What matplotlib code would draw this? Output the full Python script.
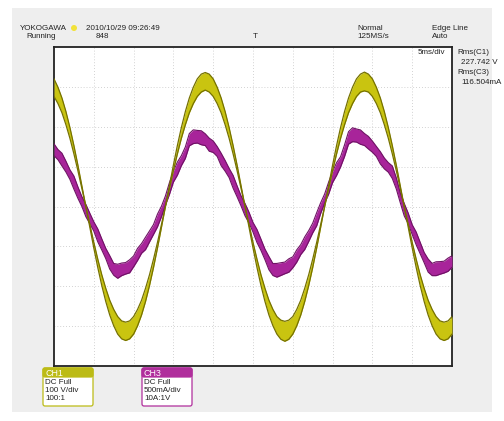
import numpy as np
import matplotlib.pyplot as plt
from matplotlib.patches import Rectangle, FancyBboxPatch, Circle

plt.rcParams['font.family'] = ['Liberation Sans', 'DejaVu Sans']

# sample times, ms (5 ms/div, 10 div)
t_ms = np.linspace(0, 50, 101)

# CH1 voltage envelope, V (upper and lower edge of the yellow band)
ch1_upper = [320, 299, 272, 238, 198, 153, 104, 52, 0, -45, -90, -132, -171, -205, -235, -258, -276, -287, -290, -287,
             -276, -258, -235, -205, -171, -132, -90, -45, 0, 52, 104, 153, 198, 238, 272, 299, 320, 332,
             336, 332, 320, 299, 272, 238, 198, 153, 104, 52, 0, -45, -90, -132, -171, -205, -235, -258, -276, -285,
             -288, -285, -276, -258, -235, -205, -171, -132, -90, -45, 0, 52, 104, 153, 198, 238, 272, 299, 320, 332,
             337, 332, 320, 299, 272, 238, 198, 153, 104, 52, 0, -45, -90, -132, -171, -205, -235, -258, -276, -287,
             -290, -287, -276]
ch1_lower = [276, 258, 235, 205, 171, 132, 90, 45, 0, -52, -104, -153, -198, -238, -272, -299, -320, -332, -336, -332,
             -320, -299, -272, -238, -198, -153, -104, -52, 0, 45, 90, 132, 171, 205, 235, 258, 276, 287,
             292, 287, 276, 258, 235, 205, 171, 132, 90, 45, 0, -52, -104, -153, -198, -238, -272, -299, -320, -333,
             -338, -333, -320, -299, -272, -238, -198, -153, -104, -52, 0, 45, 90, 132, 171, 205, 235, 258, 276, 287,
             290, 287, 276, 258, 235, 205, 171, 132, 90, 45, 0, -52, -104, -153, -198, -238, -272, -299, -320, -332,
             -336, -332, -320]

# CH3 current, mA (centre of the magenta band) and half width of the band
ch3_mid = [712, 650, 588, 500, 400, 300, 175, 62, -50, -150,
           -250, -362, -475, -588, -700, -788, -812, -788, -775, -750,
           -688, -600, -525, -462, -375, -288, -175, -62, 75, 225,
           375, 475, 575, 675, 838, 875, 875, 862, 838, 775,
           750, 690, 590, 510, 420, 310, 190, 70, -40, -140,
           -260, -370, -480, -600, -710, -790, -800, -785, -770, -740,
           -700, -620, -540, -460, -370, -270, -160, -20, 100, 230,
           370, 470, 560, 700, 860, 900, 890, 870, 840, 800,
           750, 690, 610, 540, 490, 430, 290, 110, -40, -150,
           -290, -400, -520, -640, -740, -790, -780, -770, -760, -730,
           -690]
ch3_half = [74, 64, 80, 68, 60, 82, 72, 62, 77, 66, 58, 81, 70, 64, 84, 74, 88, 79, 72, 82,
            68, 76, 61, 78, 69, 62, 80, 66, 58, 74, 68, 82, 63, 72, 77, 86, 79, 88, 74, 82,
            72, 62, 78, 67, 58, 80, 69, 63, 77, 68, 60, 82, 71, 66, 83, 75, 86, 80, 73, 84,
            69, 77, 62, 79, 68, 61, 82, 67, 57, 75, 69, 80, 64, 73, 78, 87, 82, 90, 75, 79,
            70, 63, 77, 68, 60, 79, 70, 62, 78, 67, 61, 80, 72, 64, 82, 77, 87, 79, 74, 83, 72]

ch3_mid = np.array(ch3_mid)
ch3_half = np.array(ch3_half)

W, H = 504, 421
fig = plt.figure(figsize=(W / 100, H / 100), dpi=100)

# background panel
bg = fig.add_axes([0, 0, 1, 1], zorder=0)
bg.set_xlim(0, W)
bg.set_ylim(H, 0)
bg.axis('off')
bg.add_patch(Rectangle((12, 8), 480, 404, color='#eeeeee', lw=0))

# scope screen
x0, y0, x1, y1 = 54, 47, 452, 366
ax = fig.add_axes([x0 / W, 1 - y1 / H, (x1 - x0) / W, (y1 - y0) / H], zorder=1)
ax.set_facecolor('white')
ax.set_xlim(0, 50)
ax.set_ylim(-400, 400)
ax.set_xticks([])
ax.set_yticks([])
for s in ax.spines.values():
    s.set_linewidth(1.3)
    s.set_color('#222222')
for gx in range(5, 50, 5):
    ax.axvline(gx, color='#c4c4c4', lw=0.6, ls=(0, (1, 2.5)), zorder=0)
for gy in range(-300, 400, 100):
    ax.axhline(gy, color='#c4c4c4', lw=0.6, ls=(0, (1, 2.5)), zorder=0)

ax2 = ax.twinx()
ax2.set_ylim(-2000, 2000)
ax2.axis('off')

# CH3 (magenta)
ax2.fill_between(t_ms, ch3_mid - ch3_half, ch3_mid + ch3_half, color='#a8249a', lw=0, zorder=2)
ax2.plot(t_ms, ch3_mid + ch3_half, color='#6e1264', lw=0.8, zorder=3)
ax2.plot(t_ms, ch3_mid - ch3_half, color='#6e1264', lw=0.8, zorder=3)

# CH1 (yellow), scaled onto the CH3 axis so it sits above CH3
k = 2000 / 400
up = np.array(ch1_upper) * k
lo = np.array(ch1_lower) * k
ax2.fill_between(t_ms, lo, up, color='#c9c410', lw=0, zorder=4)
ax2.plot(t_ms, up, color='#757100', lw=0.9, zorder=5)
ax2.plot(t_ms, lo, color='#757100', lw=0.9, zorder=5)

# overlay texts
ov = fig.add_axes([0, 0, 1, 1], zorder=3)
ov.set_xlim(0, W)
ov.set_ylim(H, 0)
ov.axis('off')
ov.patch.set_alpha(0)

fs = 5.8
def txt(x, y, s, **kw):
    ov.text(x, y, s, fontsize=fs, va='center', ha='left', color='#222222', **kw)

txt(20, 28, 'YOKOGAWA')
ov.add_patch(Circle((74, 28), 3, color='#f2e23a', lw=0))
txt(86, 28, '2010/10/29 09:26:49')
txt(26, 36, 'Running')
txt(96, 36, '848')
txt(253, 36, 'T')
txt(357, 28, 'Normal')
txt(357, 36, '125MS/s')
txt(432, 28, 'Edge Line')
txt(432, 36, 'Auto')
txt(418, 53, '5ms/div')
txt(457, 53, 'Rms(C1)')
txt(461, 62, '227.742 V')
txt(457, 73, 'Rms(C3)')
txt(461, 83, '116.504mA')

# channel boxes
ch_names = ['CH1', 'CH3']
ch_lines = [['DC Full', '100 V/div', '100:1'], ['DC Full', '500mA/div', '10A:1V']]
ch_colors = ['#bcbb16', '#b02e9c']
ch_x = [43, 142]
for name, lines, c, bx in zip(ch_names, ch_lines, ch_colors, ch_x):
    ov.add_patch(FancyBboxPatch((bx, 368), 50, 38, boxstyle='round,pad=0,rounding_size=2',
                                fc='white', ec=c, lw=0.9))
    ov.add_patch(FancyBboxPatch((bx, 368), 50, 9, boxstyle='round,pad=0,rounding_size=2',
                                fc=c, ec=c, lw=0.9))
    ov.text(bx + 2, 373, name, fontsize=6.4, color='white', va='center', ha='left')
    for n, s in enumerate(lines):
        ov.text(bx + 2, 382 + 8 * n, s, fontsize=fs, color='#222222', va='center', ha='left')

fig.savefig('out.png', dpi=100)
